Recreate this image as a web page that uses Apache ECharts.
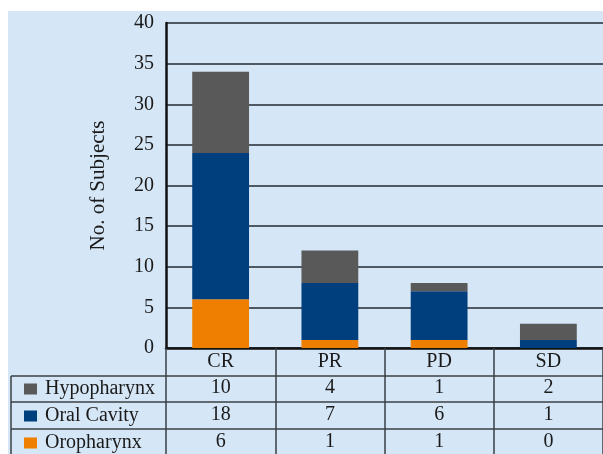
<!DOCTYPE html>
<html>
<head>
<meta charset="utf-8">
<style>
  html, body { margin: 0; padding: 0; background: #fff; }
  #main { width: 603px; height: 454px; }
</style>
<script src="https://cdn.jsdelivr.net/npm/echarts@6/dist/echarts.min.js"></script>
</head>
<body>
<div id="main"></div>
<script>
// data
var categories = ['CR', 'PR', 'PD', 'SD'];
var hypopharynx = [10, 4, 1, 2];
var oralCavity = [18, 7, 6, 1];
var oropharynx = [6, 1, 1, 0];
var yTicks = { min: 0, max: 40, step: 5 };

var chart = echarts.init(document.getElementById('main'));

var font = 'Liberation Serif';
var lineCol = '#3a3f45';

// extra x axes used as the rows of the data table under the chart
function tableRow(values, offset) {
    return {
        type: 'category',
        data: categories,
        position: 'bottom',
        offset: offset,
        axisLine: { show: false },
        axisTick: { show: false },
        axisLabel: {
            margin: 4,
            fontFamily: font,
            fontSize: 20,
            lineHeight: 20,
            color: '#1a1a1a',
            formatter: function (v, i) { return String(values[i]); }
        }
    };
}

var option = {
    backgroundColor: '#ffffff',
    animation: false,
    graphic: [
        {   // light blue panel
            type: 'rect', z: -10,
            shape: { x: 8, y: 11, width: 600, height: 450 },
            style: { fill: '#d5e6f6' }
        },
        // table row lines
        { type: 'line', z: 5, shape: { x1: 11, y1: 376, x2: 603, y2: 376 }, style: { stroke: lineCol, lineWidth: 1.5 } },
        { type: 'line', z: 5, shape: { x1: 11, y1: 402, x2: 603, y2: 402 }, style: { stroke: lineCol, lineWidth: 1.5 } },
        { type: 'line', z: 5, shape: { x1: 11, y1: 429, x2: 603, y2: 429 }, style: { stroke: lineCol, lineWidth: 1.5 } },
        { type: 'line', z: 5, shape: { x1: 11, y1: 376, x2: 11, y2: 454 }, style: { stroke: lineCol, lineWidth: 1.5 } }
    ],
    legend: {
        orient: 'vertical',
        left: 24,
        top: 379,
        padding: 0,
        itemWidth: 13,
        itemHeight: 11,
        itemGap: 7,
        icon: 'rect',
        textStyle: { fontFamily: font, fontSize: 20, lineHeight: 20, color: '#1a1a1a', padding: [0, 0, 0, 3] },
        data: ['Hypopharynx', 'Oral Cavity', 'Oropharynx']
    },
    grid: { left: 166, right: -3, top: 23, bottom: 106 },
    xAxis: [
        {
            type: 'category',
            data: categories,
            axisLine: { lineStyle: { color: '#111', width: 2.5 } },
            axisTick: { show: true, length: 108, lineStyle: { color: lineCol, width: 1.5 } },
            axisLabel: { margin: 4, fontFamily: font, fontSize: 20, lineHeight: 20, color: '#1a1a1a' }
        },
        tableRow(hypopharynx, 26),
        tableRow(oralCavity, 53),
        tableRow(oropharynx, 80)
    ],
    yAxis: {
        type: 'value',
        min: yTicks.min,
        max: yTicks.max,
        interval: yTicks.step,
        name: 'No. of Subjects',
        nameLocation: 'middle',
        nameGap: 57,
        nameTextStyle: { fontFamily: font, fontSize: 21, color: '#1a1a1a' },
        axisLine: { show: true, lineStyle: { color: '#111', width: 2.5 } },
        axisTick: { show: false },
        axisLabel: { margin: 12, fontFamily: font, fontSize: 20, color: '#1a1a1a' },
        splitLine: { lineStyle: { color: '#4f5963', width: 2 } }
    },
    series: [
        {
            name: 'Oropharynx', type: 'bar', stack: 'total', barWidth: '52%',
            itemStyle: { color: '#ef7f00' }, data: oropharynx
        },
        {
            name: 'Oral Cavity', type: 'bar', stack: 'total', barWidth: '52%',
            itemStyle: { color: '#003f7e' }, data: oralCavity
        },
        {
            name: 'Hypopharynx', type: 'bar', stack: 'total', barWidth: '52%',
            itemStyle: { color: '#595959' }, data: hypopharynx
        }
    ]
};

chart.setOption(option);
</script>
</body>
</html>
